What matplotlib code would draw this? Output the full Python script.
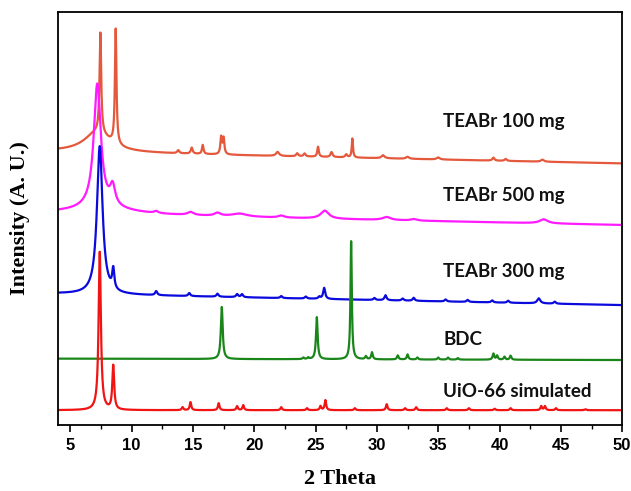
import numpy as np
import matplotlib
matplotlib.use("agg")
import matplotlib.pyplot as plt

# 2-theta sampling grid
two_theta = np.arange(4.0, 50.0, 0.01)

# baseline (intensity at 4 deg, drift per degree)
base_100 = (273.5, -0.26)
base_500 = (211.5, -0.25)
base_300 = (131.5, -0.25)
base_bdc = (66.5, -0.03)
base_uio = (15.0, 0.0)

# peaks: (center, height, fwhm)
peaks_100 = [(7.2, 20, 2.6), (7.45, 100, 0.16), (8.70, 115, 0.15), (13.8, 3, 0.2),
             (14.9, 6, 0.18), (15.8, 9, 0.15), (17.3, 17, 0.15), (17.5, 16, 0.15),
             (21.9, 4, 0.3), (23.5, 3, 0.2), (24.1, 3, 0.2), (25.2, 10, 0.15),
             (26.3, 5, 0.2), (27.5, 3, 0.2), (28.0, 19, 0.12), (30.5, 3, 0.3),
             (32.5, 2, 0.3), (35.0, 2, 0.3), (39.5, 3, 0.2), (40.5, 2, 0.2), (43.5, 2, 0.3)]
peaks_500 = [(7.5, 6, 6.0), (7.2, 124, 0.7), (8.45, 19, 0.5), (12.0, 2, 0.4),
             (14.8, 3, 0.6), (17.0, 3, 0.6), (18.8, 3, 1.5), (22.2, 2, 0.6),
             (25.75, 8, 0.8), (30.8, 3, 0.8), (33.0, 1.5, 0.6), (43.6, 4, 0.8)]
peaks_300 = [(7.4, 148, 0.55), (8.5, 20, 0.2), (12.0, 4, 0.2), (14.7, 3, 0.2),
             (17.0, 3, 0.2), (18.6, 3, 0.2), (19.0, 3, 0.2), (22.2, 2, 0.2),
             (24.2, 2, 0.2), (25.3, 2, 0.2), (25.7, 11, 0.2), (29.8, 2, 0.2),
             (30.7, 5, 0.2), (32.1, 2, 0.2), (33.0, 3, 0.2), (35.6, 2, 0.2),
             (37.4, 2, 0.2), (39.4, 2, 0.2), (40.7, 2, 0.2), (43.2, 5, 0.3), (44.5, 2, 0.2)]
peaks_bdc = [(17.35, 52, 0.18), (24.0, 1.5, 0.15), (24.4, 1.5, 0.15), (25.1, 42, 0.16),
             (27.9, 118, 0.13), (29.1, 3, 0.15), (29.6, 7, 0.15), (31.7, 4, 0.15),
             (32.5, 5, 0.15), (33.3, 2, 0.15), (35.0, 2, 0.15), (35.8, 2, 0.15),
             (36.6, 1.5, 0.15), (39.5, 6, 0.15), (39.8, 4, 0.15), (40.4, 3, 0.15),
             (40.9, 4, 0.15)]
peaks_uio = [(7.4, 158, 0.22), (8.5, 44, 0.18), (14.15, 3, 0.15), (14.8, 8, 0.15),
             (17.1, 7, 0.15), (18.6, 4, 0.15), (19.1, 5, 0.15), (22.2, 3, 0.15),
             (24.3, 2, 0.15), (25.4, 4, 0.15), (25.8, 10, 0.15), (28.2, 2, 0.15),
             (30.8, 6, 0.15), (32.3, 2, 0.15), (33.2, 3, 0.15), (35.7, 2, 0.15),
             (37.5, 2, 0.15), (39.6, 1.5, 0.15), (40.9, 2, 0.15), (43.4, 4, 0.15),
             (43.7, 4, 0.15), (44.6, 2, 0.15), (47.0, 1, 0.15)]

labels = ["TEABr 100 mg", "TEABr 500 mg", "TEABr 300 mg", "BDC", "UiO-66 simulated"]
label_y = [303, 229, 154, 86, 34]
colors = ["#e4583b", "#ff1aff", "#0a0adc", "#1a861a", "#f01414"]


def pattern(base, peaks):
    """Baseline plus Lorentzian peaks"""
    y = base[0] + base[1] * (two_theta - 4.0)
    for c, h, w in peaks:
        y = y + h / (1.0 + ((two_theta - c) / (w / 2.0)) ** 2)
    return y


fig = plt.figure(figsize=(6.31, 4.91), dpi=100)
ax = fig.add_axes([0.092, 0.134, 0.894, 0.842])

series = [(base_100, peaks_100), (base_500, peaks_500), (base_300, peaks_300),
          (base_bdc, peaks_bdc), (base_uio, peaks_uio)]
for (base, peaks), col in zip(series, colors):
    ax.plot(two_theta, pattern(base, peaks), color=col, lw=1.6)

for lab, ly in zip(labels, label_y):
    ax.text(35.4, ly, lab, fontsize=13.5, fontweight="bold", family="Lato",
            va="center", ha="left", color="#111111")

ax.set_xlim(4, 50)
ax.set_ylim(0, 413)
ax.set_xticks(range(5, 51, 5))
ax.set_xticks(np.arange(7.5, 50, 5), minor=True)
ax.set_yticks([])
for sp in ax.spines.values():
    sp.set_linewidth(1.3)
ax.tick_params(axis="x", which="major", direction="out", length=5, width=1.2,
               labelsize=12, pad=4)
ax.tick_params(axis="x", which="minor", direction="out", length=3, width=1.0)
for t in ax.get_xticklabels():
    t.set_fontweight("bold")
    t.set_family("Liberation Sans")

ax.set_xlabel("2 Theta", fontsize=16, fontweight="bold", family="Liberation Serif",
              labelpad=12)
ax.set_ylabel("Intensity (A. U.)", fontsize=16, fontweight="bold",
              family="Liberation Serif", labelpad=20)

fig.savefig("out.png", dpi=100)
